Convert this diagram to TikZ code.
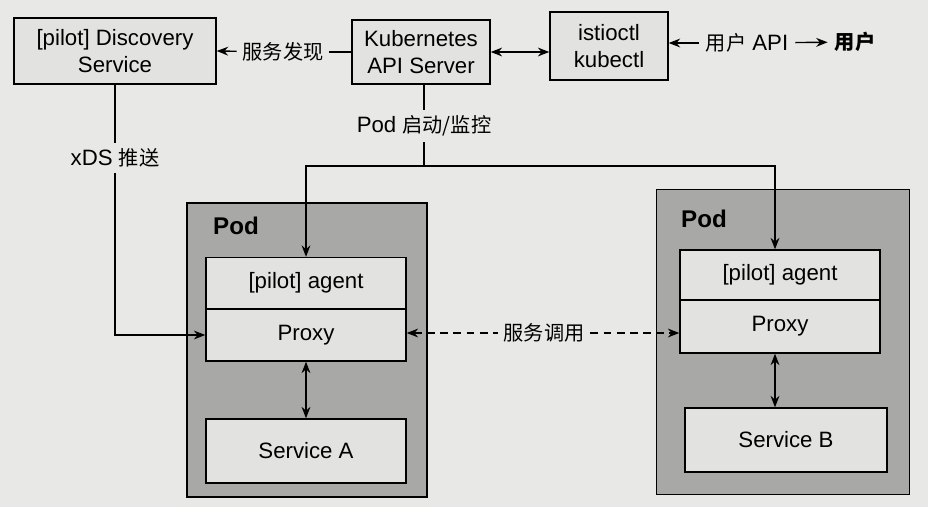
\documentclass[tikz,border=0pt]{standalone}
\usepackage{fontspec}
\setmainfont[Scale=1.1]{Liberation Sans}
\newfontfamily\cjk{Noto Sans CJK SC}
\usetikzlibrary{positioning,arrows.meta}
\definecolor{paper}{RGB}{232,232,230}
\definecolor{podgray}{RGB}{168,168,166}
\definecolor{boxgray}{RGB}{226,226,224}
\tikzset{
  box/.style={draw,fill=boxgray,align=center,inner sep=2pt},
  podbox/.style={draw,fill=podgray,inner sep=0pt},
  lbl/.style={fill=paper,inner sep=3pt},
  calldash/.style={dash pattern=on 4.5pt off 3pt}
}
\begin{document}
\begin{tikzpicture}[x=0.02cm,y=-0.02cm,>={Stealth[length=6.5pt,width=5pt]},line width=0.8pt,font=\fontsize{11.5}{15.5}\selectfont]
  \fill[paper] (0,0) rectangle (928,507);
  \useasboundingbox (0,0) rectangle (928,507);
  % control plane
  \node[box,minimum width=202*0.02cm,minimum height=66*0.02cm] (disc) at (115,51) {[pilot] Discovery\\Service};
  \node[box,minimum width=138*0.02cm,minimum height=64*0.02cm] (kube) at (421,52) {Kubernetes\\API Server};
  \node[box,minimum width=118*0.02cm,minimum height=68*0.02cm] (ctl) at (609,46) {istioctl\\kubectl};
  \node (api) at (747,43) {{\cjk 用户} API};
  \node (user) at (855,42) {\cjk\bfseries 用户};
  %===========================================
  % pods
  \node[podbox,minimum width=240*0.02cm,minimum height=294*0.02cm] (podA) at (307,350) {};
  \node[podbox,minimum width=253*0.02cm,minimum height=305*0.02cm] (podB) at (783,342) {};
  \node[font=\fontsize{12.5}{14}\selectfont\bfseries] (podAlbl) at (236,226) {Pod};
  \node[font=\fontsize{12.5}{14}\selectfont\bfseries] (podBlbl) at (704,219) {Pod};
  \node[box,minimum width=200*0.02cm,minimum height=51*0.02cm] (agentA) at (306,283) {[pilot] agent};
  \node[box,minimum width=200*0.02cm,minimum height=52*0.02cm] (proxyA) at (306,335) {Proxy};
  \node[box,minimum width=200*0.02cm,minimum height=64*0.02cm] (svcA) at (306,451) {Service A};
  \node[box,minimum width=200*0.02cm,minimum height=50*0.02cm] (agentB) at (780,275) {[pilot] agent};
  \node[box,minimum width=200*0.02cm,minimum height=53*0.02cm] (proxyB) at (780,326.5) {Proxy};
  \node[box,minimum width=202*0.02cm,minimum height=64*0.02cm] (svcB) at (786,440) {Service B};
  %===========================================
  % connectors
  \node[lbl] (find) at (283,52) {\cjk 服务发现};
  \draw (kube.west) -- (find);
  \draw[->] (find) -- (disc.east);
  \draw[<->] (kube.east) -- (kube.east -| ctl.west);
  \draw[->] (api) -- (api -| ctl.east);
  \draw[->] (api) -- (user);
  \node[lbl] (xds) at (115,158) {xDS {\cjk 推送}};
  \draw (disc.south) -- (xds);
  \draw[->] (xds) |- (proxyA.west);
  \node[lbl] (mon) at (424,126) {Pod {\cjk 启动/监控}};
  \coordinate (fork) at (424,166);
  \draw (kube.south -| mon) -- (mon);
  \draw (mon) -- (fork);
  \draw[->] (fork) -| (agentA);
  \draw[->] (fork) -| ([xshift=-5*0.02cm]agentB.north);
  \node[lbl] (call) at (544,333) {\cjk 服务调用};
  \draw[<-,calldash] (proxyA.east |- call) -- (call);
  \draw[->,calldash] (call) -- (call -| proxyB.west);
  \draw[<->] (proxyA.south) -- (svcA.north);
  \draw[<->] ([xshift=-5*0.02cm]proxyB.south) -- ([xshift=-5*0.02cm]proxyB.south |- svcB.north);
\end{tikzpicture}
\end{document}
